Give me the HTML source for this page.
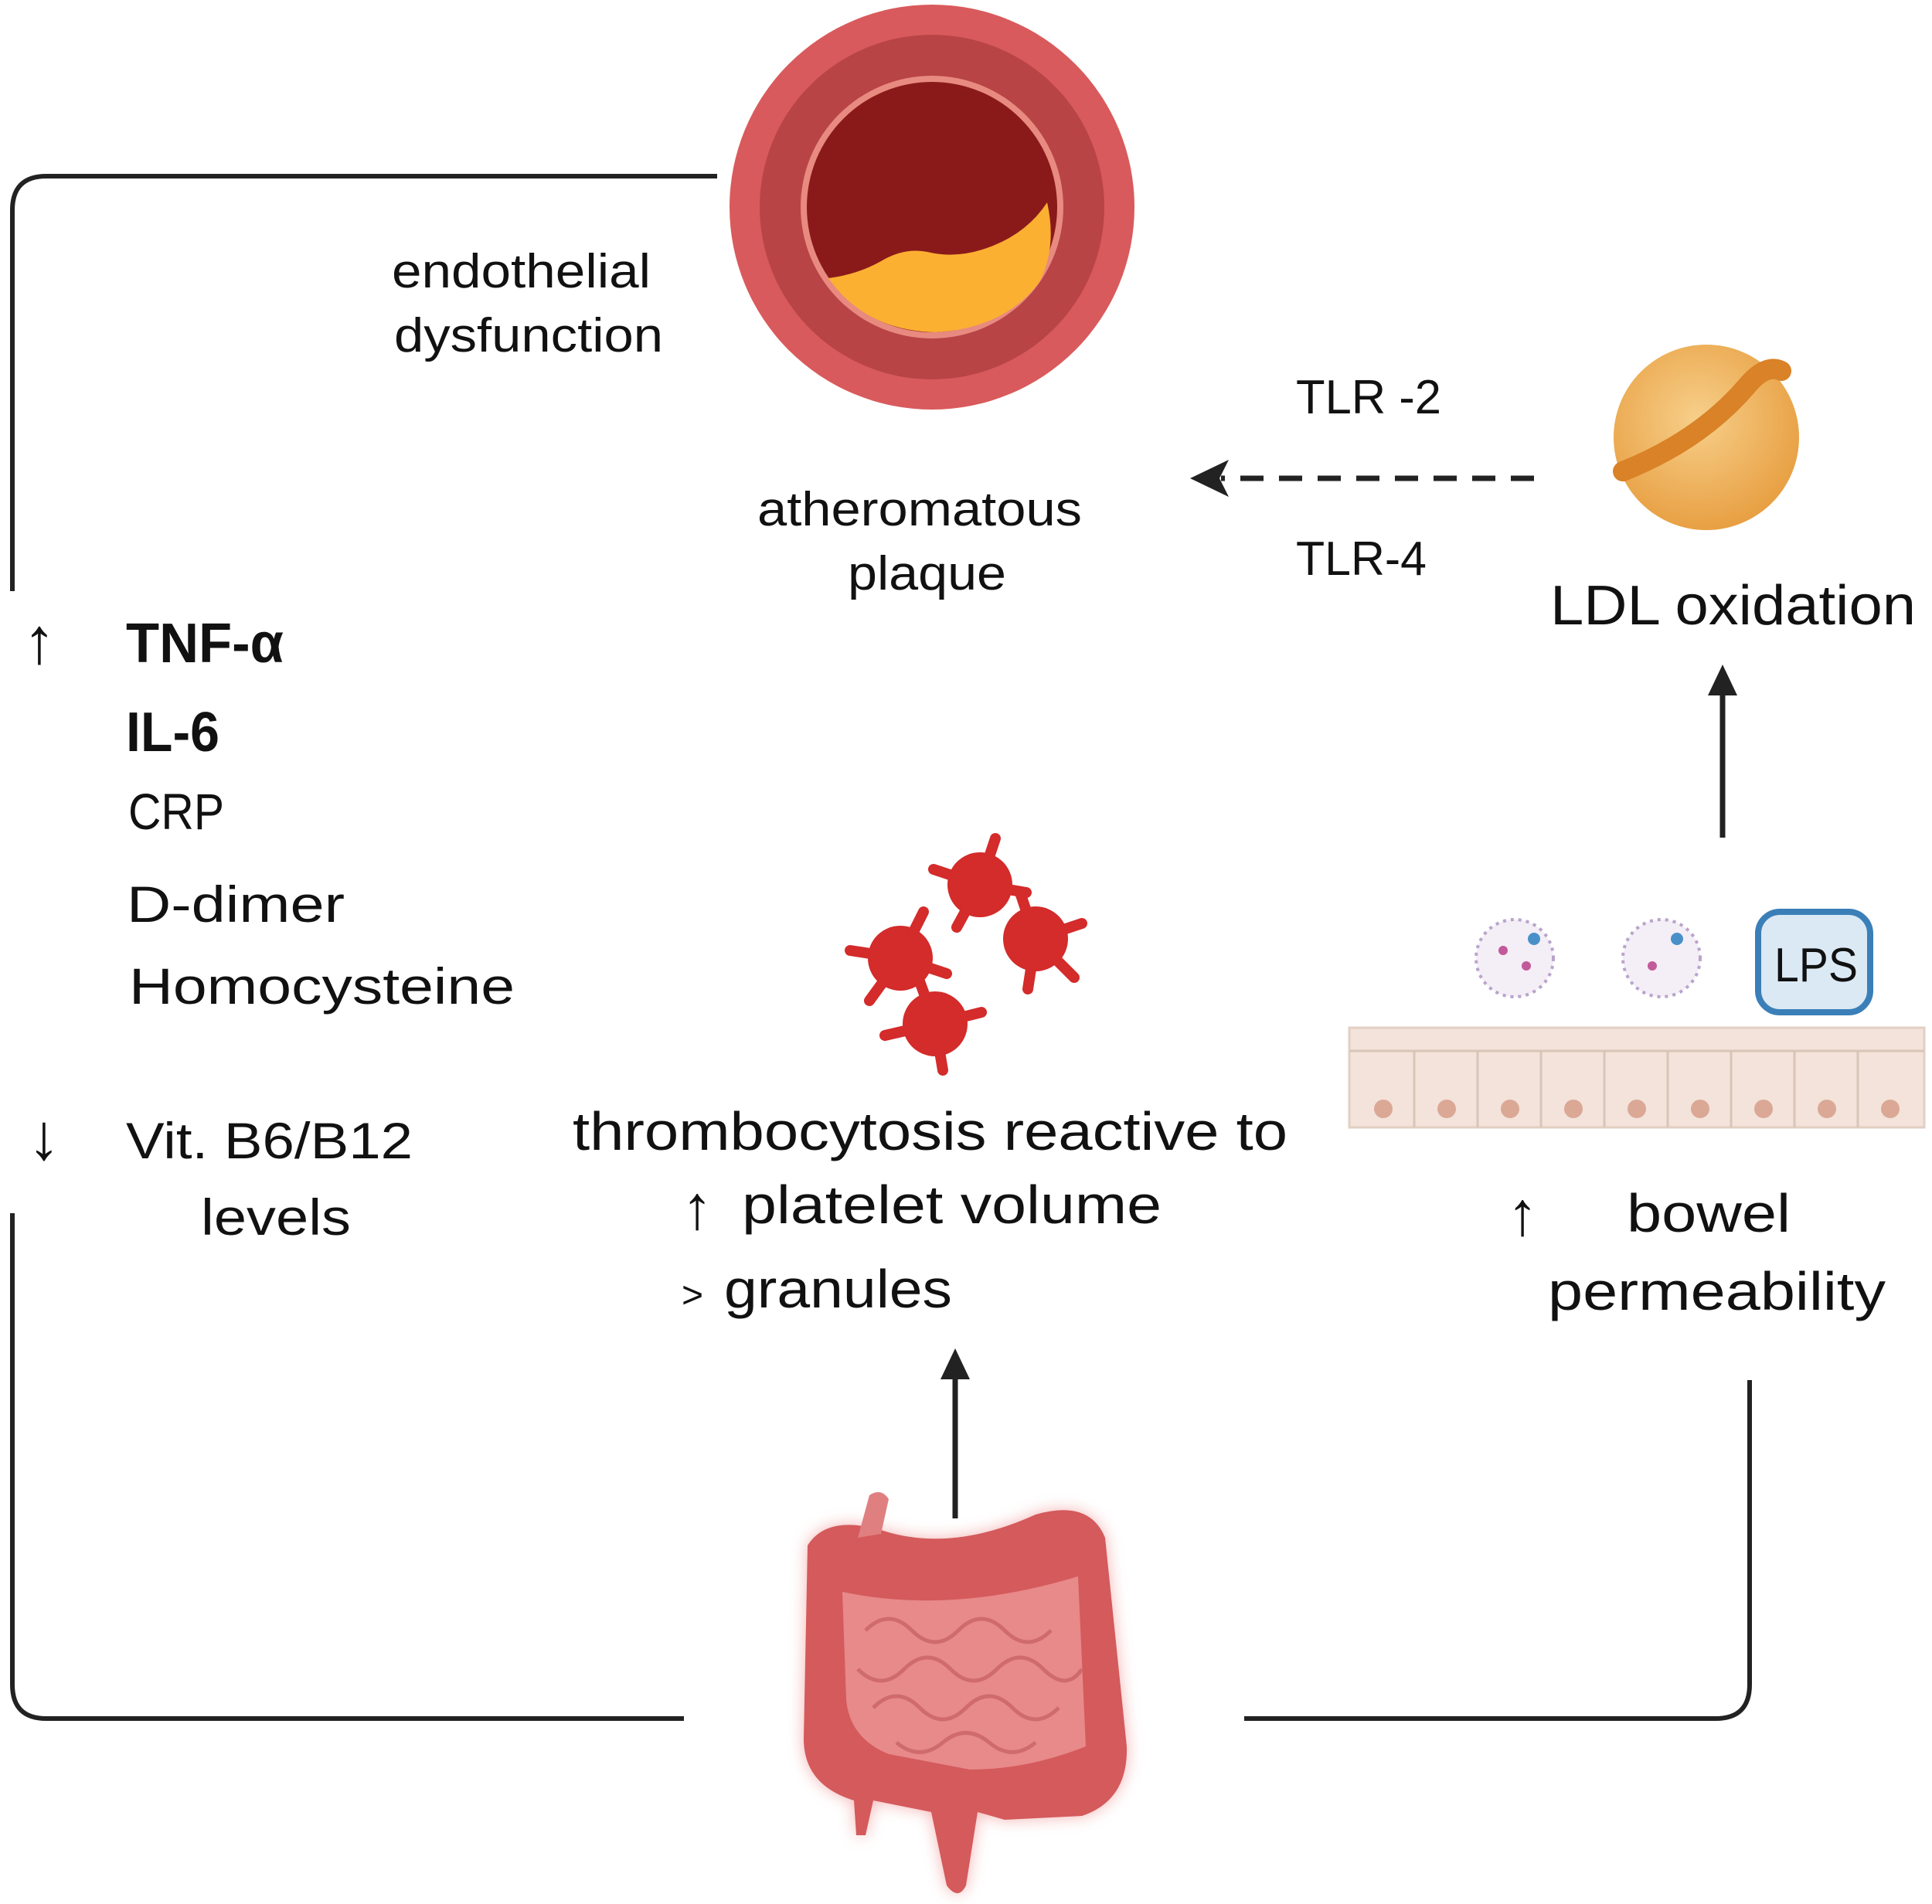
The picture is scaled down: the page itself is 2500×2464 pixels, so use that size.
<!DOCTYPE html>
<html><head><meta charset="utf-8"><style>
html,body{margin:0;padding:0;background:#fff}
svg{display:block}
text{font-family:"Liberation Sans","DejaVu Sans",sans-serif;fill:#111}
</style></head><body>
<svg width="2500" height="2464" viewBox="0 0 2500 2464" xmlns="http://www.w3.org/2000/svg">
<defs>
<radialGradient id="ldl" cx="45%" cy="40%" r="60%"><stop offset="0" stop-color="#f7cf8a"/><stop offset="1" stop-color="#e8a043"/></radialGradient>
<filter id="blur" x="-20%" y="-20%" width="140%" height="140%"><feGaussianBlur stdDeviation="10"/></filter>
</defs>
<g fill="none" stroke="#222" stroke-width="6">
<path d="M928 228 H60 Q16 228 16 272 V765"/>
<path d="M16 1570 V2180 Q16 2224 60 2224 H885"/>
<path d="M1610 2224 H2220 Q2264 2224 2264 2180 V1786"/>
<path d="M1985 619 H1580" stroke-dasharray="30 20" stroke-width="7"/>
<path d="M2229 1084 V890" stroke-width="7"/>
<path d="M1236 1965 V1775" stroke-width="7"/>
</g>
<polygon points="1540,619 1590,595 1578,619 1590,643" fill="#222"/>
<polygon points="2229,860 2210,900 2248,900" fill="#222"/>
<polygon points="1236,1745 1217,1785 1255,1785" fill="#222"/>
<!-- artery -->
<circle cx="1206" cy="268" r="262" fill="#d95a5c"/>
<circle cx="1206" cy="268" r="223" fill="#b84446"/>
<circle cx="1206" cy="268" r="170" fill="#e88a80"/>
<circle cx="1206" cy="268" r="162" fill="#8a1a1a"/>
<path d="M1072 360 Q1110 355 1140 338 Q1170 320 1200 326 Q1240 336 1285 318 Q1330 300 1355 262 Q1368 320 1345 365 Q1300 425 1210 430 Q1120 428 1072 360Z" fill="#fbb032"/>
<!-- LDL -->
<circle cx="2208" cy="566" r="120" fill="url(#ldl)"/>
<path d="M2100 610 Q2200 570 2260 500 Q2285 470 2305 480" stroke="#d98227" stroke-width="26" fill="none" stroke-linecap="round"/>
<!-- platelets -->
<g fill="#d42b2b">
<circle cx="1268" cy="1145" r="42"/><circle cx="1340" cy="1215" r="42"/><circle cx="1165" cy="1240" r="42"/><circle cx="1210" cy="1325" r="42"/>
<g stroke="#d42b2b" stroke-width="14" stroke-linecap="round">
<path d="M1268 1145 l-60 -20 M1268 1145 l20 -60 M1268 1145 l60 10 M1268 1145 l-30 55"/>
<path d="M1340 1215 l60 -20 M1340 1215 l50 50 M1340 1215 l-10 65 M1340 1215 l-20 -60"/>
<path d="M1165 1240 l-65 -10 M1165 1240 l-40 55 M1165 1240 l30 -60 M1165 1240 l60 20"/>
<path d="M1210 1325 l-65 15 M1210 1325 l60 -15 M1210 1325 l10 60 M1210 1325 l-20 -55"/>
</g></g>
<!-- epithelium -->
<rect x="1746" y="1330" width="744" height="129" fill="#f3e3da" stroke="#e3cfc3" stroke-width="3"/>
<g stroke="#d9c4b8" stroke-width="3">
<line x1="1746" y1="1360" x2="2490" y2="1360"/>
<line x1="1830" y1="1360" x2="1830" y2="1459"/><line x1="1912" y1="1360" x2="1912" y2="1459"/><line x1="1994" y1="1360" x2="1994" y2="1459"/><line x1="2076" y1="1360" x2="2076" y2="1459"/><line x1="2158" y1="1360" x2="2158" y2="1459"/><line x1="2240" y1="1360" x2="2240" y2="1459"/><line x1="2322" y1="1360" x2="2322" y2="1459"/><line x1="2404" y1="1360" x2="2404" y2="1459"/>
</g>
<g fill="#dba896"><circle cx="1790" cy="1435" r="12"/><circle cx="1872" cy="1435" r="12"/><circle cx="1954" cy="1435" r="12"/><circle cx="2036" cy="1435" r="12"/><circle cx="2118" cy="1435" r="12"/><circle cx="2200" cy="1435" r="12"/><circle cx="2282" cy="1435" r="12"/><circle cx="2364" cy="1435" r="12"/><circle cx="2446" cy="1435" r="12"/></g>
<circle cx="1960" cy="1240" r="50" fill="#f4eef6" stroke="#b9a4cc" stroke-width="4" stroke-dasharray="4 6"/>
<circle cx="2150" cy="1240" r="50" fill="#f4eef6" stroke="#b9a4cc" stroke-width="4" stroke-dasharray="4 6"/>
<g fill="#c25a9a"><circle cx="1945" cy="1230" r="6"/><circle cx="1975" cy="1250" r="6"/><circle cx="2138" cy="1250" r="6"/></g>
<g fill="#4a90c8"><circle cx="1985" cy="1215" r="8"/><circle cx="2170" cy="1215" r="8"/></g>
<rect x="2275" y="1180" width="145" height="130" rx="28" fill="#dbe9f5" stroke="#3a7fb8" stroke-width="8"/>
<text x="2296" y="1270" font-size="62" textLength="108" lengthAdjust="spacingAndGlyphs" fill="#333">LPS</text>
<!-- intestine -->
<path d="M1045 2000 Q1070 1960 1140 1980 Q1230 2010 1340 1960 Q1410 1940 1430 1990 L1458 2260 Q1460 2330 1400 2350 L1300 2355 L1265 2345 L1250 2440 Q1240 2460 1225 2440 L1205 2345 L1130 2330 L1120 2375 L1108 2375 L1105 2330 Q1040 2310 1040 2250Z" fill="#f2a0a0" filter="url(#blur)" opacity="0.8"/>
<path d="M1045 2000 Q1070 1960 1140 1980 Q1230 2010 1340 1960 Q1410 1940 1430 1990 L1458 2260 Q1460 2330 1400 2350 L1300 2355 L1265 2345 L1250 2440 Q1240 2460 1225 2440 L1205 2345 L1130 2330 L1120 2375 L1108 2375 L1105 2330 Q1040 2310 1040 2250Z" fill="#d45a5c"/>
<path d="M1110 1990 L1125 1935 Q1140 1925 1150 1940 L1140 1985Z" fill="#e07f80"/>
<path d="M1090 2060 Q1230 2090 1395 2040 L1405 2260 Q1330 2290 1255 2290 L1150 2270 Q1100 2250 1095 2200Z" fill="#e8898a"/>
<g fill="none" stroke="#cf6b6d" stroke-width="5">
<path d="M1120 2110 q30 -30 60 0 t60 0 t60 0 t60 0"/>
<path d="M1110 2160 q30 30 60 0 t60 0 t60 0 t60 0 t50 0"/>
<path d="M1130 2210 q30 -30 60 0 t60 0 t60 0 t60 0"/>
<path d="M1160 2255 q30 25 60 0 t60 0 t60 0"/>
</g>
<!-- texts -->
<g font-size="62">
<text x="507" y="372" textLength="335" lengthAdjust="spacingAndGlyphs">endothelial</text>
<text x="510" y="455" textLength="348" lengthAdjust="spacingAndGlyphs">dysfunction</text>
<text x="980" y="680" textLength="420" lengthAdjust="spacingAndGlyphs">atheromatous</text>
<text x="1097" y="763" textLength="205" lengthAdjust="spacingAndGlyphs">plaque</text>
<text x="1677" y="535" textLength="188" lengthAdjust="spacingAndGlyphs">TLR -2</text>
<text x="1677" y="744" textLength="169" lengthAdjust="spacingAndGlyphs">TLR-4</text>
</g>
<text x="2006" y="808" font-size="72" textLength="473" lengthAdjust="spacingAndGlyphs">LDL oxidation</text>
<text x="30" y="858" font-size="84">↑</text>
<text x="163" y="857" font-size="72" font-weight="bold" textLength="204" lengthAdjust="spacingAndGlyphs">TNF-α</text>
<text x="163" y="972" font-size="72" font-weight="bold" textLength="121" lengthAdjust="spacingAndGlyphs">IL-6</text>
<g font-size="66">
<text x="166" y="1073" textLength="124" lengthAdjust="spacingAndGlyphs">CRP</text>
<text x="164" y="1193" textLength="282" lengthAdjust="spacingAndGlyphs">D-dimer</text>
<text x="167" y="1299" textLength="499" lengthAdjust="spacingAndGlyphs">Homocysteine</text>
<text x="36" y="1500" font-size="84">↓</text>
<text x="163" y="1499" textLength="371" lengthAdjust="spacingAndGlyphs">Vit. B6/B12</text>
<text x="260" y="1598" textLength="194" lengthAdjust="spacingAndGlyphs">levels</text>
</g>
<g font-size="70">
<text x="741" y="1488" textLength="925" lengthAdjust="spacingAndGlyphs">thrombocytosis reactive to</text>
<text x="882" y="1590" font-size="80">↑</text>
<text x="960" y="1583" textLength="543" lengthAdjust="spacingAndGlyphs">platelet volume</text>
<text x="882" y="1692" font-size="48">&gt;</text>
<text x="937" y="1692" textLength="295" lengthAdjust="spacingAndGlyphs">granules</text>
<text x="1950" y="1598" font-size="80">↑</text>
<text x="2105" y="1594" textLength="212" lengthAdjust="spacingAndGlyphs">bowel</text>
<text x="2003" y="1695" textLength="437" lengthAdjust="spacingAndGlyphs">permeability</text>
</g>
</svg>
</body></html>
